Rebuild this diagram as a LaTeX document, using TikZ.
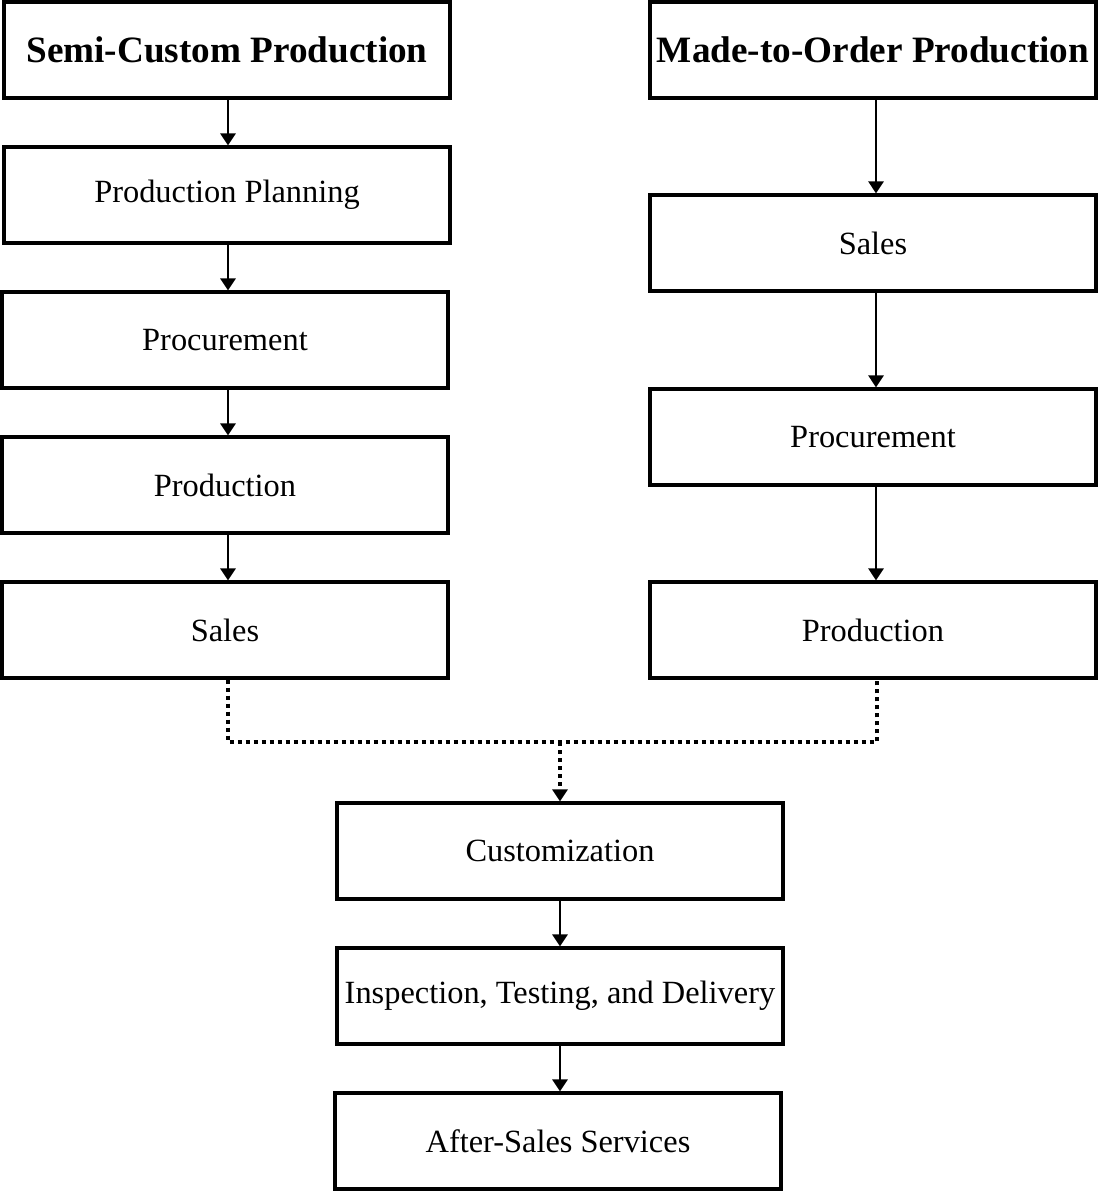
\documentclass[tikz,border=0pt]{standalone}
\usepackage{fontspec}
\setmainfont{Liberation Serif}
\usetikzlibrary{arrows.meta}

\tikzset{
  stage/.style = {draw, line width = 3.2pt, minimum width = 446pt, minimum height = 96pt,
                  inner sep = 0pt, font = \fontsize{32.4}{39}\selectfont},
  title/.style = {stage, font = \fontsize{37.2}{45}\selectfont\bfseries},
  flow/.style  = {line width = 2.8pt, -{Triangle[length = 12pt, width = 15pt]}},
  merge/.style = {line width = 3.2pt, dash pattern = on 4pt off 4pt}
}

\begin{document}
\begin{tikzpicture}[x = 1pt, y = -1pt]

    \useasboundingbox (0, 0) rectangle (1097, 1193);

    % semi-custom chain
    \node[title] (semi) at (227, 50) {Semi-Custom Production};
    \node[stage] (plan) at (227, 195) {Production Planning};
    \node[stage] (lproc) at (225, 340) {Procurement};
    \node[stage] (lprod) at (225, 485) {Production};
    \node[stage] (lsales) at (225, 630) {Sales};

    % made-to-order chain
    \node[title] (order) at (873, 50) {Made-to-Order Production};
    \node[stage] (rsales) at (873, 243) {Sales};
    \node[stage] (rproc) at (873, 437) {Procurement};
    \node[stage] (rprod) at (873, 630) {Production};

    % common part
    \node[stage] (cust) at (560, 851) {Customization};
    \node[stage] (test) at (560, 996) {Inspection, Testing, and Delivery};
    \node[stage] (after) at (558, 1141) {After-Sales Services};

    \coordinate (join) at (560, 742);

    \draw[flow] (semi.south -| 228, 0) -- (plan.north -| 228, 0);
    \draw[flow] (plan.south -| 228, 0) -- (lproc.north -| 228, 0);
    \draw[flow] (lproc.south -| 228, 0) -- (lprod.north -| 228, 0);
    \draw[flow] (lprod.south -| 228, 0) -- (lsales.north -| 228, 0);

    \draw[flow] (order.south -| 876, 0) -- (rsales.north -| 876, 0);
    \draw[flow] (rsales.south -| 876, 0) -- (rproc.north -| 876, 0);
    \draw[flow] (rproc.south -| 876, 0) -- (rprod.north -| 876, 0);

    \draw[merge] (lsales.south -| 228, 0) |- (join) -| (rprod.south -| 877, 0);
    \draw[merge, -{Triangle[length = 12pt, width = 15pt]}] (join) -- (cust.north);

    \draw[flow] (cust) -- (test);
    \draw[flow] (test.south -| 560, 0) -- (after.north -| 560, 0);

\end{tikzpicture}
\end{document}
